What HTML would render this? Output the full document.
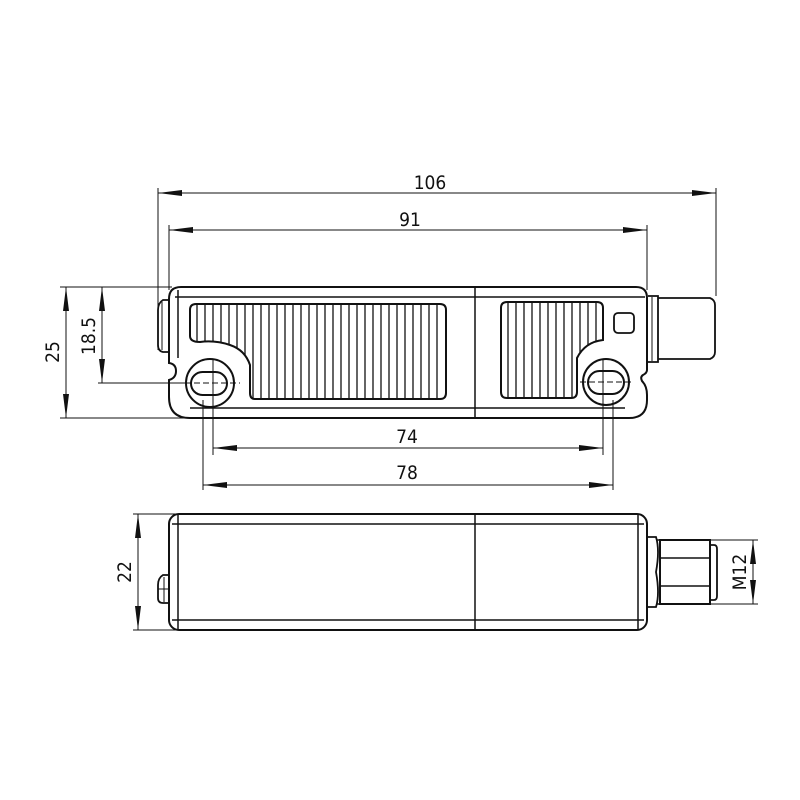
<!DOCTYPE html>
<html><head><meta charset="utf-8"><style>
html,body{margin:0;padding:0;background:#fff;}
svg{display:block;}
text{font-family:"DejaVu Sans Condensed","Liberation Sans Narrow","Liberation Sans",sans-serif;font-size:19px;fill:#111;}
</style></head><body>
<svg width="800" height="800" viewBox="0 0 800 800" xmlns="http://www.w3.org/2000/svg">
<defs>
<marker id="a" viewBox="0 0 24 6" refX="24" refY="3" markerWidth="24" markerHeight="6" markerUnits="userSpaceOnUse" orient="auto-start-reverse">
<path d="M0,0 L24,3 L0,6 Z" fill="#111"/></marker>
<clipPath id="cl"><path d="M196,304 H440 Q446,304 446,310 V393 Q446,399 440,399 H255 Q250,399 250,393 V365 Q245,350 230,345 Q215,340 200,342 Q190,342 190,336 V310 Q190,304 196,304 Z"/></clipPath>
<clipPath id="cr"><path d="M507,302 H597 Q603,302 603,308 V340 Q585,342 577,358 V392 Q577,398 571,398 H507 Q501,398 501,392 V308 Q501,302 507,302 Z"/></clipPath>
</defs>
<g fill="none" stroke="#111" stroke-width="1">
<line x1="158" y1="188" x2="158" y2="350"/>
<line x1="716" y1="188" x2="716" y2="296"/>
<line x1="158" y1="193" x2="716" y2="193" marker-start="url(#a)" marker-end="url(#a)"/>
<line x1="169" y1="225" x2="169" y2="290"/>
<line x1="647" y1="225" x2="647" y2="290"/>
<line x1="169" y1="230" x2="647" y2="230" marker-start="url(#a)" marker-end="url(#a)"/>
<line x1="60" y1="287" x2="172" y2="287"/>
<line x1="60" y1="418" x2="205" y2="418"/>
<line x1="66" y1="287" x2="66" y2="418" marker-start="url(#a)" marker-end="url(#a)"/>
<line x1="98" y1="383" x2="190" y2="383"/>
<line x1="102" y1="287" x2="102" y2="383" marker-start="url(#a)" marker-end="url(#a)"/>
<line x1="213" y1="360" x2="213" y2="455"/>
<line x1="603" y1="360" x2="603" y2="455"/>
<line x1="203" y1="400" x2="203" y2="490"/>
<line x1="613" y1="400" x2="613" y2="490"/>
<line x1="213" y1="448" x2="603" y2="448" marker-start="url(#a)" marker-end="url(#a)"/>
<line x1="203" y1="485" x2="613" y2="485" marker-start="url(#a)" marker-end="url(#a)"/>
<line x1="133" y1="514" x2="176" y2="514"/>
<line x1="133" y1="630" x2="176" y2="630"/>
<line x1="138" y1="514" x2="138" y2="630" marker-start="url(#a)" marker-end="url(#a)"/>
<line x1="710" y1="540" x2="758" y2="540"/>
<line x1="710" y1="604" x2="758" y2="604"/>
<line x1="753" y1="540" x2="753" y2="604" marker-start="url(#a)" marker-end="url(#a)"/>
</g>

<!-- grooves -->
<g stroke="#111" stroke-width="1.3" clip-path="url(#cl)">
<path d="M197,300V405M205,300V405M213,300V405M221,300V405M229,300V405M237,300V405M245,300V405M253,300V405M261,300V405M269,300V405M277,300V405M285,300V405M293,300V405M301,300V405M309,300V405M317,300V405M325,300V405M333,300V405M341,300V405M349,300V405M357,300V405M365,300V405M373,300V405M381,300V405M389,300V405M397,300V405M405,300V405M413,300V405M421,300V405M429,300V405M437,300V405"/>
</g>
<g stroke="#111" stroke-width="1.3" clip-path="url(#cr)">
<path d="M508,300V405M516,300V405M524,300V405M532,300V405M540,300V405M548,300V405M556,300V405M564,300V405M572,300V405M580,300V405M588,300V405M596,300V405"/>
</g>

<g fill="none" stroke="#111" stroke-width="2">
<path d="M181,287 H636 Q647,287 647,298 V370 Q647,373 643,375 Q640,377 642,381 Q647,386 647,395 V400 Q647,418 629,418 H190 Q169,418 169,397 V380 Q176,378 176,371 Q176,364 169,363 V299 Q169,287 181,287 Z"/>
<line x1="178" y1="290" x2="178" y2="358" stroke-width="1.5"/>
<line x1="175" y1="297" x2="645" y2="297" stroke-width="1.5"/>
<line x1="190" y1="408" x2="625" y2="408" stroke-width="1.5"/>
<line x1="475" y1="287" x2="475" y2="418" stroke-width="1.5"/>
<path d="M169,300 H163 Q158,303 158,310 V345 Q158,351 163,352 H169" stroke-width="1.8"/>
<line x1="162" y1="302" x2="162" y2="350" stroke-width="1"/>
<path d="M196,304 H440 Q446,304 446,310 V393 Q446,399 440,399 H255 Q250,399 250,393 V365 Q245,350 230,345 Q215,340 200,342 Q190,342 190,336 V310 Q190,304 196,304 Z"/>
<path d="M507,302 H597 Q603,302 603,308 V340 Q585,342 577,358 V392 Q577,398 571,398 H507 Q501,398 501,392 V308 Q501,302 507,302 Z"/>
<rect x="614" y="313" width="20" height="20" rx="4" stroke-width="1.8"/>
<circle cx="210" cy="383" r="24"/>
<rect x="191" y="372" width="36" height="23" rx="11.5"/>
<circle cx="606" cy="382" r="23"/>
<rect x="588" y="371" width="36" height="23" rx="11.5"/>
<path d="M648,296 H658 V362 H648" stroke-width="1.8"/>
<path d="M658,298 H710 Q715,300 715,305 V352 Q715,357 710,359 H658" stroke-width="1.8"/>
<line x1="652" y1="297" x2="652" y2="361" stroke-width="1"/>
</g>
<g stroke="#111" stroke-width="1" stroke-dasharray="6,3" fill="none">
<line x1="185" y1="383" x2="240" y2="383"/>
<line x1="580" y1="382" x2="632" y2="382"/>
</g>

<g fill="none" stroke="#111" stroke-width="2">
<rect x="169" y="514" width="478" height="116" rx="10"/>
<line x1="172" y1="524" x2="644" y2="524" stroke-width="1.5"/>
<line x1="172" y1="620" x2="644" y2="620" stroke-width="1.5"/>
<line x1="178" y1="515" x2="178" y2="629" stroke-width="1.5"/>
<line x1="638" y1="515" x2="638" y2="629" stroke-width="1.5"/>
<line x1="475" y1="514" x2="475" y2="630" stroke-width="1.5"/>
<path d="M169,575 H163 Q158,578 158,585 V598 Q158,603 163,603 H169" stroke-width="1.8"/>
<line x1="158" y1="589" x2="169" y2="589" stroke-width="1"/>
<line x1="164" y1="577" x2="164" y2="602" stroke-width="1"/>
<path d="M648,537 H656 Q660,550 656,572 Q660,594 656,607 H648" stroke-width="1.8"/>
<path d="M656,540 H660 V604 H656" stroke-width="1.5"/>
<rect x="660" y="540" width="50" height="64"/>
<line x1="660" y1="558" x2="710" y2="558" stroke-width="1.5"/>
<line x1="660" y1="586" x2="710" y2="586" stroke-width="1.5"/>
<path d="M710,545 H714 Q717,545 717,549 V596 Q717,600 714,600 H710" stroke-width="1.8"/>
</g>

<text x="430" y="189" text-anchor="middle">106</text>
<text x="410" y="226" text-anchor="middle">91</text>
<text x="407" y="443" text-anchor="middle">74</text>
<text x="407" y="479" text-anchor="middle">78</text>
<text transform="translate(59,352) rotate(-90)" text-anchor="middle">25</text>
<text transform="translate(95,336) rotate(-90)" text-anchor="middle">18.5</text>
<text transform="translate(131,572) rotate(-90)" text-anchor="middle">22</text>
<text transform="translate(746,572) rotate(-90)" text-anchor="middle">M12</text>
</svg>
</body></html>
